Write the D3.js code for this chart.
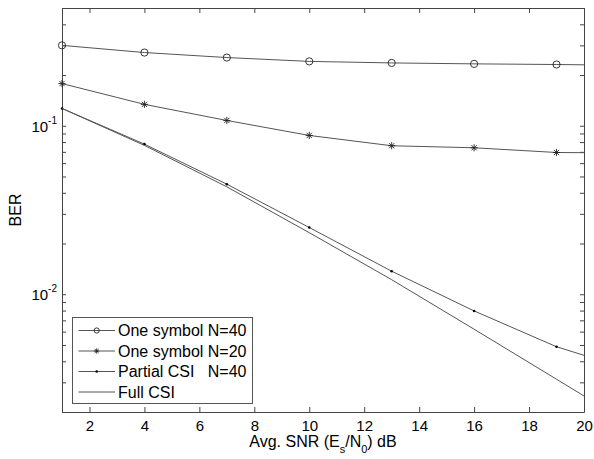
<!DOCTYPE html>
<html>
<head>
<meta charset="utf-8">
<script src="https://cdn.jsdelivr.net/npm/d3@7"></script>
<style>
  body { margin: 0; background: #fff; }
  svg { font-family: "Liberation Sans", Arial, sans-serif; }
  .axis path, .axis line { stroke: #444; }
  .axis text { fill: #000; font-size: 15px; font-family: "Liberation Sans", Arial, sans-serif; }
</style>
</head>
<body>
<div id="chart"></div>
<script>

// SNR points (dB) and BER values
var snr = [1, 4, 7, 10, 13, 16, 19, 20];
var markerSnr = [1, 4, 7, 10, 13, 16, 19];

var oneSymbol40 = [0.300, 0.272, 0.254, 0.241, 0.236, 0.233, 0.231, 0.230];
var oneSymbol20 = [0.178, 0.134, 0.1075, 0.0876, 0.0761, 0.0740, 0.0694, 0.0692];
var partialCsi40 = [0.1267, 0.0778, 0.0450, 0.0249, 0.0137, 0.00796, 0.00488, 0.00434];
var fullCsi = [0.1267, 0.0765, 0.0434, 0.0232, 0.0122, 0.0062, 0.00313, 0.00249];

var seriesNames = ["One symbol N=40", "One symbol N=20", "Partial CSI   N=40", "Full CSI"];
var seriesMarkers = ["circle", "star", "dot", "none"];

var xTicks = [2, 4, 6, 8, 10, 12, 14, 16, 18, 20];
var yDecades = [0.1, 0.01];
var yDecadeLabels = ["-1", "-2"];

var width = 594;
var height = 459;
var margin = {top: 8, right: 10, bottom: 47, left: 62};

var svg = d3.select("#chart")
  .append("svg")
    .attr("width", width)
    .attr("height", height);

var w = width - margin.left - margin.right;
var h = height - margin.top - margin.bottom;

var g = svg.append("g").attr("transform", "translate(" + margin.left + "," + margin.top + ")");

var x = d3.scaleLinear().domain([1, 20]).range([0, w]);
var y = d3.scaleLog().domain([0.002, 0.5]).range([h, 0]);

// axes, MATLAB style ticks pointing inwards on all four sides
g.append("g")
  .attr("class", "axis")
  .attr("transform", "translate(0," + h + ")")
  .call(d3.axisBottom(x).tickValues(xTicks).tickSize(-5).tickSizeOuter(0).tickPadding(8).tickFormat(d3.format("d")));

g.append("g")
  .attr("class", "axis")
  .call(d3.axisTop(x).tickValues(xTicks).tickSize(-5).tickSizeOuter(0).tickFormat(""));

g.append("g")
  .attr("class", "axis")
  .call(d3.axisLeft(y).tickValues(y.ticks()).tickSize(-4).tickSizeOuter(0).tickFormat(""));

g.append("g")
  .attr("class", "axis")
  .attr("transform", "translate(" + w + ",0)")
  .call(d3.axisRight(y).tickValues(y.ticks()).tickSize(-4).tickSizeOuter(0).tickFormat(""));

// decade labels 10^-1, 10^-2
var yLab = g.selectAll(".ylab")
  .data(yDecades)
  .enter().append("text")
    .attr("class", "ylab")
    .attr("x", -5)
    .attr("y", function(d) { return y(d) + 6; })
    .attr("text-anchor", "end")
    .style("font-size", "15px");
yLab.append("tspan").text("10");
yLab.append("tspan")
  .attr("dy", -8)
  .style("font-size", "10px")
  .text(function(d, i) { return yDecadeLabels[i]; });

// axis titles
svg.append("text")
  .attr("transform", "translate(21," + (margin.top + h / 2) + ") rotate(-90)")
  .attr("text-anchor", "middle")
  .style("font-size", "16px")
  .text("BER");

var xt = svg.append("text")
  .attr("x", margin.left + w / 2)
  .attr("y", 447)
  .attr("text-anchor", "middle")
  .style("font-size", "16px");
xt.append("tspan").text("Avg. SNR (E");
xt.append("tspan").attr("dy", 6).style("font-size", "11px").text("s");
xt.append("tspan").attr("dy", -6).text("/N");
xt.append("tspan").attr("dy", 6).style("font-size", "11px").text("0");
xt.append("tspan").attr("dy", -6).text(") dB");

var lineColor = "#555";
var markColor = "#222";

var line = d3.line()
  .x(function(d) { return x(d[0]); })
  .y(function(d) { return y(d[1]); });

var allSeries = [oneSymbol40, oneSymbol20, partialCsi40, fullCsi];

function drawMarker(sel, type, cx, cy, size) {
  if (type == "circle") {
    sel.append("circle").attr("cx", cx).attr("cy", cy).attr("r", size)
      .attr("fill", "none").attr("stroke", markColor).attr("stroke-width", 0.9);
  } else if (type == "star") {
    var s = size, d2 = size * 0.72;
    sel.append("path")
      .attr("d", "M" + (cx - s) + "," + cy + "H" + (cx + s) +
                 "M" + cx + "," + (cy - s) + "V" + (cy + s) +
                 "M" + (cx - d2) + "," + (cy - d2) + "L" + (cx + d2) + "," + (cy + d2) +
                 "M" + (cx - d2) + "," + (cy + d2) + "L" + (cx + d2) + "," + (cy - d2))
      .attr("stroke", markColor).attr("stroke-width", 0.9).attr("fill", "none");
  } else if (type == "dot") {
    sel.append("circle").attr("cx", cx).attr("cy", cy).attr("r", 1.3).attr("fill", "#000");
  }
}

allSeries.forEach(function(vals, i) {
  var pts = snr.map(function(s, j) { return [s, vals[j]]; });
  g.append("path")
    .datum(pts)
    .attr("fill", "none")
    .attr("stroke", lineColor)
    .attr("stroke-width", 1)
    .attr("d", line);
  pts.forEach(function(p) {
    if (markerSnr.indexOf(p[0]) >= 0) drawMarker(g, seriesMarkers[i], x(p[0]), y(p[1]), 3.6);
  });
});

// legend
var leg = svg.append("g").attr("transform", "translate(72.5,317.5)");
leg.append("rect")
  .attr("width", 180)
  .attr("height", 86)
  .attr("fill", "#fff")
  .attr("stroke", "#555");

seriesNames.forEach(function(name, i) {
  var ly = 13 + i * 20.5;
  leg.append("line")
    .attr("x1", 6).attr("x2", 42.5)
    .attr("y1", ly).attr("y2", ly)
    .attr("stroke", lineColor);
  drawMarker(leg, seriesMarkers[i], 24.2, ly, 2.6);
  leg.append("text")
    .attr("x", 45.5)
    .attr("y", ly)
    .attr("dy", "0.36em")
    .style("font-size", "16px")
    .style("white-space", "pre")
    .attr("xml:space", "preserve")
    .text(name);
});

</script>
</body>
</html>
